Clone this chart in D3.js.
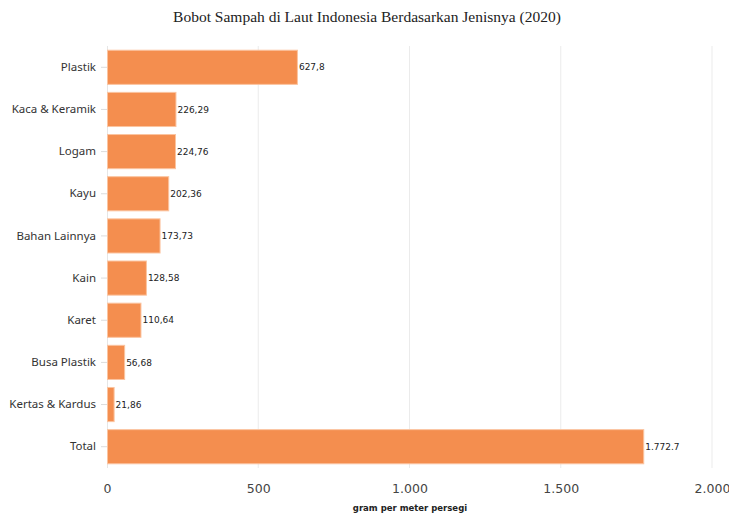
<!DOCTYPE html>
<html>
<head>
<meta charset="utf-8">
<script src="https://cdn.jsdelivr.net/npm/d3@7"></script>
<style>
    body { margin: 0; background: #fff; }
    .title { font-family: "Liberation Serif", "DejaVu Serif", serif; font-size: 15.5px; fill: #222; }
</style>
</head>
<body>
<div id="chart"></div>
<script>
let categories = ["Plastik", "Kaca & Keramik", "Logam", "Kayu", "Bahan Lainnya",
    "Kain", "Karet", "Busa Plastik", "Kertas & Kardus", "Total"];
let values = [627.8, 226.29, 224.76, 202.36, 173.73, 128.58, 110.64, 56.68, 21.86, 1772.7];
let valueLabels = ["627,8", "226,29", "224,76", "202,36", "173,73", "128,58", "110,64",
    "56,68", "21,86", "1.772.7"];
let xTicks = [0, 500, 1000, 1500, 2000];
let xTickLabels = ["0", "500", "1.000", "1.500", "2.000"];

let width = 729, height = 513;
let margin = { top: 46, right: 17, bottom: 45, left: 107 };
let plotW = width - margin.left - margin.right;
let plotH = height - margin.top - margin.bottom;

let svg = d3.select("#chart")
    .append("svg")
    .attr("width", width)
    .attr("height", height);

svg.append("text")
    .attr("class", "title")
    .attr("x", 367)
    .attr("y", 22)
    .attr("text-anchor", "middle")
    .text("Bobot Sampah di Laut Indonesia Berdasarkan Jenisnya (2020)");

let g = svg.append("g")
    .attr("transform", "translate(" + margin.left + "," + margin.top + ")");

let x = d3.scaleLinear()
    .domain([0, 2000])
    .range([0, plotW]);

let y = d3.scaleBand()
    .domain(categories)
    .range([0, plotH])
    .paddingInner(0.19)
    .paddingOuter(0.1);

// grid lines
g.append("g")
    .selectAll("line")
    .data(xTicks.slice(1))
    .join("line")
    .attr("x1", d => x(d))
    .attr("x2", d => x(d))
    .attr("y1", 0)
    .attr("y2", plotH)
    .attr("stroke", "#ebebeb")
    .attr("stroke-width", 1);

// x axis
let xAxis = g.append("g")
    .attr("transform", "translate(0," + plotH + ")")
    .call(d3.axisBottom(x).tickValues(xTicks)
        .tickFormat((d, i) => xTickLabels[i]).tickSize(0).tickPadding(16));
xAxis.select(".domain").remove();
xAxis.selectAll("text")
    .attr("font-family", "DejaVu Sans, sans-serif")
    .attr("font-size", 12.5)
    .attr("fill", "#444");

// y axis
let yAxis = g.append("g")
    .call(d3.axisLeft(y).tickSize(6).tickPadding(5));
yAxis.select(".domain")
    .attr("d", "M0.5,0V" + plotH)
    .attr("stroke", "#e6e6e6");
yAxis.selectAll(".tick line").attr("stroke", "#dcdcdc");
yAxis.selectAll("text")
    .attr("font-family", "Noto Sans, sans-serif")
    .attr("font-size", 11.5)
    .attr("fill", "#333");

// bars
g.append("g")
    .selectAll("rect")
    .data(values)
    .join("rect")
    .attr("x", 0.5)
    .attr("y", (d, i) => y(categories[i]))
    .attr("width", d => x(d))
    .attr("height", y.bandwidth())
    .attr("fill", "#f48e4f")
    .attr("stroke", "#fbc4a0")
    .attr("stroke-width", 1);

// value labels
g.append("g")
    .selectAll("text")
    .data(values)
    .join("text")
    .attr("x", d => x(d) + 2)
    .attr("y", (d, i) => y(categories[i]) + y.bandwidth() / 2)
    .attr("dy", "0.35em")
    .attr("font-family", "DejaVu Sans, sans-serif")
    .attr("font-size", 9)
    .attr("fill", "#222")
    .text((d, i) => valueLabels[i]);

// axis title
svg.append("text")
    .attr("x", 410)
    .attr("y", 511)
    .attr("text-anchor", "middle")
    .attr("font-family", "DejaVu Sans, sans-serif")
    .attr("font-size", 8.5)
    .attr("font-weight", "bold")
    .attr("fill", "#222")
    .text("gram per meter persegi");
</script>
</body>
</html>
